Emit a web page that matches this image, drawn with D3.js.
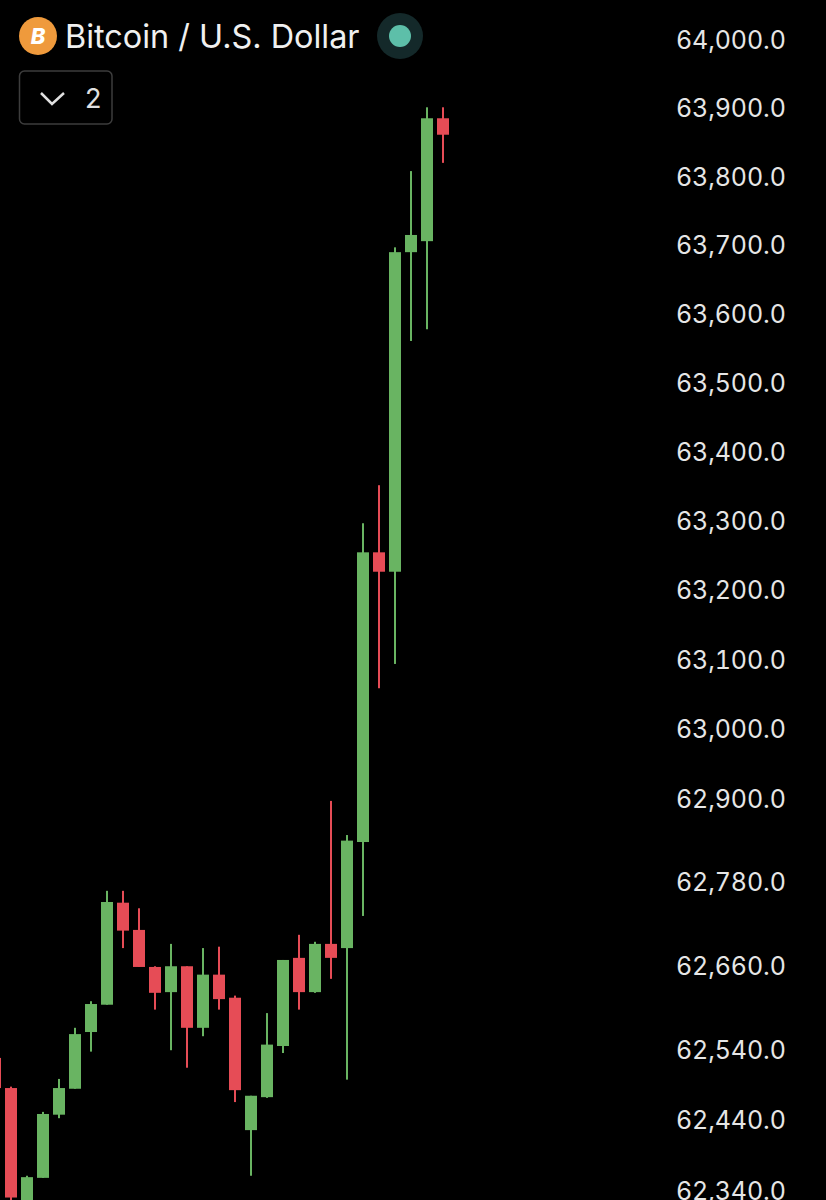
<!DOCTYPE html>
<html>
<head>
<meta charset="utf-8">
<script src="https://d3js.org/d3.v7.min.js"></script>
<style>
  html, body { margin: 0; background: #000; }
  svg { display: block; }
  text { font-family: Inter, "Noto Sans", sans-serif; }
  .domain, .tick line { display: none; }
</style>
</head>
<body>
<div id="chart"></div>
<script>
// Candle values, oldest first
let opens  = [62529, 62486, 62325, 62358, 62448, 62485, 62566, 62605, 62751, 62712, 62659, 62623, 62660, 62572, 62648, 62615, 62426, 62473, 62546, 62672, 62623, 62692, 62686, 62838, 63255, 63227, 63690, 63706, 63885];
let highs  = [62529, 62488, 62361, 62452, 62499, 62572, 62610, 62768, 62768, 62743, 62660, 62692, 62660, 62686, 62688, 62618, 62475, 62593, 62669, 62705, 62695, 62897, 62848, 63297, 63352, 63697, 63808, 63901, 63901];
let lows   = [62486, 62320, 62310, 62358, 62443, 62485, 62538, 62605, 62686, 62659, 62598, 62540, 62515, 62560, 62598, 62466, 62361, 62472, 62536, 62598, 62622, 62642, 62498, 62732, 63059, 63094, 63561, 63578, 63820];
let closes = [62486, 62330, 62359, 62449, 62486, 62563, 62606, 62752, 62711, 62659, 62622, 62660, 62572, 62648, 62613, 62483, 62475, 62548, 62669, 62623, 62692, 62672, 62840, 63255, 63227, 63690, 63715, 63885, 63861];

let priceTicks = [64000, 63900, 63800, 63700, 63600, 63500, 63400, 63300, 63200, 63100, 63000, 62900, 62780, 62660, 62540, 62440, 62340];

const width = 826, height = 1200;
const upColor = "#69b462", downColor = "#e64c56";
const candleWidth = 12;

let svg = d3.select("#chart").append("svg")
    .attr("width", width)
    .attr("height", height);

// Price axis is logarithmic, the tick gaps shrink towards the top
let y = d3.scaleLog().domain([64000, 62340]).range([39.5, 1190.5]);
let x = d3.scaleLinear().domain([0, opens.length - 1]).range([-5, 443]);

let axis = d3.axisRight(y)
    .tickValues(priceTicks)
    .tickSize(0)
    .tickPadding(0)
    .tickFormat(d3.format(",.1f"));

svg.append("g")
    .attr("transform", "translate(676,0.5)")
    .call(axis)
    .selectAll("text")
    .attr("fill", "#e6e6e6")
    .style("font-size", "25px")
    .style("font-variant-numeric", "tabular-nums")
    .style("letter-spacing", "-0.12px");

// Candles
let candles = svg.append("g").selectAll("g")
    .data(opens.map((o, i) => ({ i: i, open: o, high: highs[i], low: lows[i], close: closes[i] })))
    .join("g")
    .attr("fill", d => d.close >= d.open ? upColor : downColor);

candles.append("rect")
    .attr("x", d => x(d.i) - 1)
    .attr("width", 2)
    .attr("y", d => y(d.high))
    .attr("height", d => y(d.low) - y(d.high));

candles.append("rect")
    .attr("x", d => x(d.i) - candleWidth / 2)
    .attr("width", candleWidth)
    .attr("y", d => y(Math.max(d.open, d.close)))
    .attr("height", d => y(Math.min(d.open, d.close)) - y(Math.max(d.open, d.close)));

// Header: coin icon, name, market status dot
svg.append("circle").attr("cx", 38).attr("cy", 36).attr("r", 19).attr("fill", "#ef9a3c");
svg.append("text")
    .attr("x", 38).attr("y", 36)
    .attr("text-anchor", "middle")
    .attr("dy", "0.36em")
    .attr("fill", "#fff")
    .attr("font-weight", 800)
    .attr("font-style", "italic")
    .style("font-size", "22px")
    .text("B");

svg.append("text")
    .attr("x", 65).attr("y", 48)
    .attr("fill", "#f0f0f0")
    .style("font-size", "32.4px")
    .text("Bitcoin / U.S. Dollar");

svg.append("circle").attr("cx", 400).attr("cy", 36).attr("r", 23).attr("fill", "#14292a");
svg.append("circle").attr("cx", 400).attr("cy", 36).attr("r", 11).attr("fill", "#5dbfa9");

// Collapsed indicators button
svg.append("rect")
    .attr("x", 19.5).attr("y", 71)
    .attr("width", 92.5).attr("height", 53)
    .attr("rx", 5)
    .attr("fill", "none")
    .attr("stroke", "#3d3d3d")
    .attr("stroke-width", 1.5);
svg.append("path")
    .attr("d", d3.line()([[41, 93], [52, 104], [64, 93]]))
    .attr("fill", "none")
    .attr("stroke", "#e0e0e0")
    .attr("stroke-width", 2.5);
svg.append("text")
    .attr("x", 85).attr("y", 108)
    .attr("fill", "#e0e0e0")
    .style("font-size", "27px")
    .text("2");
</script>
</body>
</html>
